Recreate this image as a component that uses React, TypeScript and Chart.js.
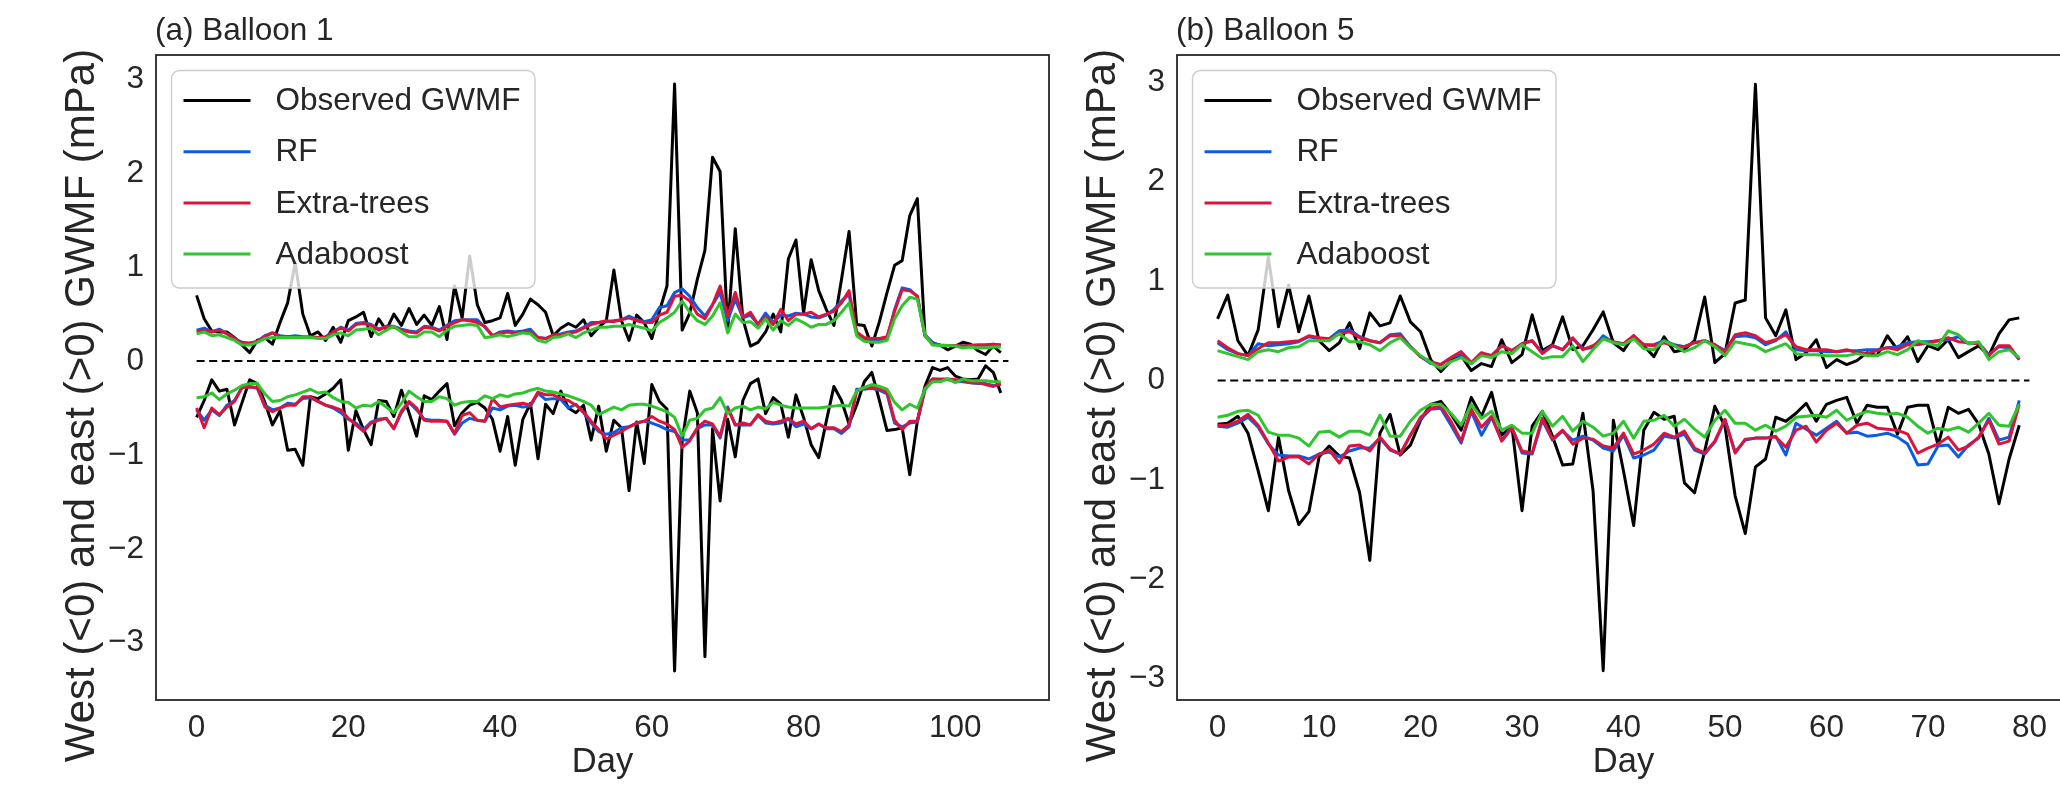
import React, { useEffect, useRef } from 'react';
import { Chart, registerables } from 'chart.js';
Chart.register(...registerables);

// ---------------- data ----------------
const aObsPos = [0.70,0.45,0.32,0.31,0.31,0.25,0.17,0.09,0.22,0.25,
 0.18,0.41,0.62,1.05,0.50,0.27,0.31,0.22,0.36,0.20,
 0.43,0.47,0.52,0.26,0.45,0.33,0.50,0.38,0.56,0.39,
 0.49,0.38,0.58,0.23,0.80,0.46,1.12,0.60,0.41,0.43,
 0.46,0.72,0.38,0.50,0.66,0.60,0.52,0.27,0.35,0.40,
 0.36,0.44,0.27,0.36,0.43,0.97,0.43,0.22,0.49,0.41,
 0.24,0.53,0.80,2.95,0.33,0.51,0.87,1.18,2.17,2.02,
 0.33,1.41,0.45,0.16,0.20,0.31,0.50,0.31,1.09,1.29,
 0.51,1.08,0.75,0.55,0.38,0.87,1.38,0.39,0.38,0.16,
 0.42,0.73,1.02,1.07,1.55,1.73,0.28,0.19,0.17,0.12,
 0.16,0.20,0.18,0.11,0.07,0.16,0.09];
const aObsNeg = [-0.60,-0.42,-0.20,-0.32,-0.30,-0.68,-0.44,-0.20,-0.24,-0.44,
 -0.68,-0.53,-0.95,-0.94,-1.11,-0.38,-0.40,-0.35,-0.29,-0.20,
 -0.95,-0.53,-0.73,-0.89,-0.42,-0.43,-0.59,-0.31,-0.55,-0.80,
 -0.37,-0.41,-0.32,-0.24,-0.69,-0.55,-0.47,-0.44,-0.50,-0.62,
 -0.96,-0.59,-1.11,-0.62,-0.45,-1.04,-0.46,-0.56,-0.32,-0.50,
 -0.55,-0.47,-0.84,-0.48,-0.96,-0.63,-0.71,-1.38,-0.65,-1.09,
 -0.25,-0.43,-0.51,-3.30,-0.85,-0.32,-0.55,-3.15,-0.72,-1.49,
 -0.62,-1.02,-0.42,-0.24,-0.19,-0.56,-0.39,-0.46,-0.81,-0.36,
 -0.60,-0.89,-1.03,-0.64,-0.27,-0.42,-0.67,-0.47,-0.22,-0.12,
 -0.42,-0.74,-0.73,-0.71,-1.21,-0.64,-0.27,-0.07,-0.10,-0.07,
 -0.16,-0.19,-0.20,-0.19,-0.05,-0.12,-0.34];
const aRfPos = [0.33,0.35,0.31,0.34,0.29,0.24,0.20,0.19,0.21,0.27,
 0.30,0.27,0.26,0.27,0.26,0.26,0.25,0.26,0.31,0.36,
 0.33,0.40,0.41,0.39,0.34,0.37,0.37,0.34,0.32,0.31,
 0.37,0.36,0.33,0.38,0.43,0.44,0.44,0.44,0.36,0.27,
 0.31,0.32,0.31,0.32,0.34,0.25,0.24,0.27,0.29,0.31,
 0.32,0.36,0.41,0.41,0.42,0.43,0.44,0.48,0.44,0.42,
 0.44,0.57,0.59,0.73,0.77,0.69,0.57,0.48,0.60,0.73,
 0.43,0.66,0.46,0.49,0.39,0.51,0.41,0.49,0.48,0.51,
 0.50,0.47,0.46,0.49,0.55,0.64,0.71,0.29,0.23,0.22,
 0.22,0.24,0.55,0.78,0.76,0.69,0.27,0.20,0.165,0.165,
 0.165,0.16,0.165,0.17,0.17,0.18,0.17];
const aEtPos = [0.31,0.33,0.31,0.33,0.29,0.24,0.19,0.19,0.21,0.26,
 0.30,0.26,0.26,0.26,0.25,0.25,0.25,0.25,0.31,0.35,
 0.32,0.39,0.40,0.38,0.33,0.37,0.36,0.33,0.31,0.30,
 0.36,0.35,0.32,0.37,0.41,0.44,0.43,0.41,0.37,0.27,
 0.30,0.31,0.30,0.31,0.31,0.25,0.24,0.28,0.28,0.30,
 0.31,0.35,0.39,0.41,0.43,0.42,0.44,0.46,0.43,0.41,
 0.41,0.49,0.52,0.69,0.70,0.64,0.50,0.45,0.60,0.80,
 0.48,0.73,0.47,0.52,0.39,0.47,0.39,0.55,0.43,0.50,
 0.50,0.52,0.47,0.50,0.53,0.62,0.75,0.31,0.25,0.24,
 0.24,0.26,0.53,0.76,0.75,0.69,0.27,0.18,0.17,0.165,
 0.165,0.16,0.165,0.17,0.17,0.18,0.17];
const aAdaPos = [0.29,0.31,0.27,0.28,0.25,0.22,0.17,0.17,0.20,0.24,
 0.25,0.25,0.25,0.25,0.25,0.25,0.24,0.24,0.28,0.30,
 0.27,0.33,0.34,0.35,0.28,0.33,0.37,0.31,0.26,0.26,
 0.31,0.31,0.26,0.33,0.37,0.38,0.39,0.38,0.25,0.26,
 0.28,0.26,0.28,0.30,0.29,0.22,0.20,0.25,0.26,0.29,
 0.25,0.30,0.33,0.36,0.36,0.37,0.37,0.39,0.37,0.35,
 0.32,0.41,0.46,0.52,0.64,0.52,0.43,0.39,0.48,0.62,
 0.30,0.50,0.41,0.42,0.35,0.45,0.33,0.43,0.38,0.45,
 0.41,0.36,0.39,0.39,0.43,0.52,0.62,0.27,0.21,0.20,
 0.20,0.22,0.45,0.59,0.68,0.66,0.28,0.17,0.165,0.165,
 0.16,0.14,0.15,0.14,0.14,0.15,0.15];
const aRfNeg = [-0.52,-0.63,-0.52,-0.58,-0.47,-0.42,-0.28,-0.27,-0.29,-0.47,
 -0.52,-0.50,-0.45,-0.46,-0.40,-0.39,-0.43,-0.47,-0.50,-0.55,
 -0.62,-0.66,-0.73,-0.65,-0.62,-0.61,-0.72,-0.55,-0.44,-0.52,
 -0.62,-0.63,-0.63,-0.64,-0.78,-0.66,-0.61,-0.63,-0.64,-0.50,
 -0.52,-0.48,-0.47,-0.49,-0.48,-0.34,-0.41,-0.40,-0.41,-0.50,
 -0.46,-0.55,-0.66,-0.75,-0.78,-0.76,-0.71,-0.70,-0.66,-0.64,
 -0.66,-0.69,-0.73,-0.75,-0.84,-0.84,-0.72,-0.68,-0.68,-0.82,
 -0.49,-0.68,-0.68,-0.68,-0.58,-0.66,-0.67,-0.66,-0.62,-0.70,
 -0.67,-0.72,-0.67,-0.72,-0.72,-0.77,-0.70,-0.30,-0.30,-0.29,
 -0.31,-0.35,-0.66,-0.70,-0.66,-0.65,-0.31,-0.19,-0.20,-0.20,
 -0.21,-0.22,-0.23,-0.24,-0.24,-0.26,-0.25];
const aEtNeg = [-0.50,-0.71,-0.50,-0.57,-0.49,-0.43,-0.28,-0.28,-0.28,-0.49,
 -0.54,-0.50,-0.47,-0.47,-0.38,-0.38,-0.43,-0.47,-0.49,-0.52,
 -0.61,-0.68,-0.75,-0.66,-0.63,-0.61,-0.72,-0.53,-0.43,-0.50,
 -0.63,-0.64,-0.64,-0.64,-0.77,-0.58,-0.55,-0.63,-0.64,-0.40,
 -0.49,-0.47,-0.46,-0.45,-0.47,-0.33,-0.36,-0.36,-0.40,-0.42,
 -0.47,-0.54,-0.64,-0.73,-0.83,-0.79,-0.75,-0.70,-0.66,-0.64,
 -0.59,-0.64,-0.67,-0.73,-0.92,-0.85,-0.71,-0.64,-0.67,-0.80,
 -0.50,-0.68,-0.66,-0.68,-0.57,-0.64,-0.66,-0.64,-0.61,-0.67,
 -0.64,-0.72,-0.67,-0.71,-0.71,-0.75,-0.68,-0.32,-0.29,-0.28,
 -0.30,-0.33,-0.63,-0.73,-0.64,-0.64,-0.29,-0.19,-0.19,-0.19,
 -0.20,-0.21,-0.23,-0.23,-0.25,-0.27,-0.24];
const aAdaNeg = [-0.39,-0.38,-0.34,-0.41,-0.35,-0.31,-0.26,-0.24,-0.24,-0.35,
 -0.43,-0.42,-0.38,-0.36,-0.33,-0.30,-0.34,-0.33,-0.39,-0.43,
 -0.44,-0.50,-0.47,-0.48,-0.43,-0.49,-0.55,-0.45,-0.32,-0.38,
 -0.43,-0.43,-0.38,-0.40,-0.47,-0.44,-0.43,-0.43,-0.37,-0.40,
 -0.36,-0.38,-0.35,-0.34,-0.31,-0.29,-0.32,-0.33,-0.35,-0.37,
 -0.40,-0.43,-0.47,-0.57,-0.53,-0.49,-0.52,-0.47,-0.46,-0.46,
 -0.48,-0.51,-0.54,-0.60,-0.80,-0.63,-0.61,-0.52,-0.50,-0.39,
 -0.56,-0.50,-0.48,-0.52,-0.49,-0.51,-0.44,-0.47,-0.49,-0.50,
 -0.50,-0.50,-0.50,-0.49,-0.48,-0.47,-0.48,-0.32,-0.28,-0.25,
 -0.27,-0.30,-0.44,-0.52,-0.46,-0.50,-0.30,-0.22,-0.22,-0.19,
 -0.23,-0.19,-0.21,-0.21,-0.21,-0.22,-0.22];

const bObsPos = [0.62,0.86,0.40,0.25,0.51,1.24,0.54,0.96,0.49,0.85,
 0.40,0.30,0.38,0.58,0.32,0.68,0.55,0.58,0.85,0.59,
 0.49,0.21,0.09,0.20,0.25,0.10,0.17,0.14,0.41,0.18,
 0.26,0.66,0.30,0.36,0.64,0.31,0.35,0.51,0.69,0.38,
 0.30,0.45,0.35,0.24,0.44,0.29,0.31,0.40,0.84,0.18,
 0.27,0.78,0.81,2.98,0.63,0.45,0.71,0.21,0.28,0.41,
 0.13,0.21,0.16,0.20,0.28,0.25,0.45,0.31,0.44,0.19,
 0.35,0.31,0.41,0.23,0.29,0.35,0.25,0.47,0.61,0.63];
const bObsNeg = [-0.44,-0.43,-0.36,-0.53,-0.91,-1.31,-0.57,-1.11,-1.45,-1.32,
 -0.77,-0.66,-0.76,-0.78,-1.13,-1.81,-0.53,-0.34,-0.75,-0.65,
 -0.40,-0.24,-0.21,-0.34,-0.50,-0.17,-0.36,-0.12,-0.55,-0.46,
 -1.31,-0.46,-0.31,-0.56,-0.85,-0.84,-0.33,-1.11,-2.92,-0.40,
 -0.91,-1.46,-0.50,-0.32,-0.39,-0.36,-1.03,-1.13,-0.71,-0.26,
 -0.46,-1.16,-1.54,-0.87,-0.79,-0.37,-0.41,-0.33,-0.23,-0.41,
 -0.24,-0.20,-0.17,-0.43,-0.25,-0.27,-0.27,-0.54,-0.27,-0.25,
 -0.25,-0.65,-0.27,-0.33,-0.29,-0.44,-0.74,-1.24,-0.79,-0.45];
const bRfPos = [0.38,0.31,0.27,0.25,0.37,0.35,0.36,0.37,0.39,0.44,
 0.42,0.42,0.50,0.51,0.44,0.40,0.38,0.46,0.47,0.34,
 0.24,0.17,0.16,0.23,0.26,0.17,0.27,0.25,0.35,0.30,
 0.37,0.40,0.28,0.35,0.31,0.42,0.32,0.33,0.45,0.38,
 0.37,0.43,0.36,0.36,0.40,0.36,0.34,0.38,0.40,0.36,
 0.30,0.44,0.45,0.43,0.36,0.40,0.49,0.31,0.30,0.30,
 0.29,0.29,0.30,0.30,0.31,0.31,0.33,0.34,0.38,0.39,
 0.39,0.40,0.41,0.44,0.37,0.38,0.26,0.34,0.33,0.21];
const bEtPos = [0.40,0.33,0.27,0.25,0.32,0.38,0.38,0.39,0.40,0.45,
 0.43,0.42,0.47,0.49,0.43,0.40,0.38,0.45,0.45,0.34,
 0.24,0.19,0.16,0.23,0.29,0.18,0.28,0.25,0.35,0.30,
 0.37,0.40,0.27,0.35,0.31,0.43,0.31,0.35,0.42,0.39,
 0.37,0.45,0.36,0.35,0.38,0.35,0.34,0.38,0.40,0.36,
 0.29,0.46,0.48,0.45,0.38,0.41,0.46,0.34,0.31,0.31,
 0.31,0.29,0.31,0.28,0.27,0.30,0.33,0.31,0.36,0.36,
 0.38,0.40,0.43,0.39,0.38,0.37,0.25,0.35,0.35,0.21];
const bAdaPos = [0.30,0.27,0.24,0.21,0.29,0.31,0.29,0.33,0.34,0.40,
 0.40,0.40,0.47,0.39,0.39,0.36,0.30,0.38,0.43,0.33,
 0.25,0.18,0.12,0.19,0.23,0.17,0.25,0.23,0.29,0.27,
 0.36,0.29,0.22,0.24,0.24,0.35,0.19,0.31,0.42,0.38,
 0.36,0.42,0.32,0.31,0.40,0.35,0.29,0.33,0.40,0.34,
 0.25,0.39,0.37,0.35,0.29,0.33,0.37,0.27,0.26,0.26,
 0.25,0.25,0.25,0.27,0.25,0.25,0.29,0.26,0.31,0.40,
 0.37,0.35,0.50,0.46,0.37,0.39,0.21,0.29,0.31,0.23];
const bRfNeg = [-0.46,-0.47,-0.43,-0.37,-0.47,-0.64,-0.75,-0.76,-0.76,-0.79,
 -0.74,-0.72,-0.77,-0.71,-0.68,-0.68,-0.58,-0.70,-0.74,-0.55,
 -0.39,-0.29,-0.28,-0.45,-0.63,-0.31,-0.55,-0.37,-0.60,-0.47,
 -0.73,-0.74,-0.40,-0.60,-0.51,-0.60,-0.56,-0.60,-0.68,-0.71,
 -0.55,-0.78,-0.75,-0.70,-0.56,-0.58,-0.54,-0.70,-0.74,-0.62,
 -0.40,-0.72,-0.60,-0.58,-0.58,-0.56,-0.75,-0.43,-0.49,-0.55,
 -0.48,-0.41,-0.53,-0.52,-0.56,-0.55,-0.53,-0.57,-0.64,-0.85,
 -0.84,-0.66,-0.65,-0.77,-0.65,-0.58,-0.38,-0.60,-0.57,-0.20];
const bEtNeg = [-0.45,-0.45,-0.41,-0.34,-0.45,-0.63,-0.81,-0.77,-0.77,-0.84,
 -0.74,-0.70,-0.83,-0.66,-0.65,-0.71,-0.57,-0.69,-0.74,-0.55,
 -0.37,-0.28,-0.26,-0.41,-0.61,-0.29,-0.47,-0.36,-0.61,-0.48,
 -0.71,-0.73,-0.38,-0.59,-0.50,-0.64,-0.58,-0.59,-0.66,-0.68,
 -0.53,-0.74,-0.70,-0.64,-0.53,-0.57,-0.51,-0.68,-0.73,-0.61,
 -0.39,-0.73,-0.59,-0.58,-0.58,-0.57,-0.67,-0.50,-0.46,-0.62,
 -0.50,-0.43,-0.53,-0.45,-0.43,-0.48,-0.49,-0.50,-0.54,-0.73,
 -0.68,-0.64,-0.57,-0.70,-0.66,-0.57,-0.40,-0.64,-0.61,-0.24];
const bAdaNeg = [-0.37,-0.35,-0.31,-0.30,-0.35,-0.52,-0.55,-0.55,-0.58,-0.66,
 -0.52,-0.51,-0.57,-0.51,-0.51,-0.55,-0.35,-0.56,-0.56,-0.41,
 -0.30,-0.24,-0.24,-0.33,-0.45,-0.24,-0.38,-0.31,-0.50,-0.45,
 -0.53,-0.53,-0.31,-0.46,-0.36,-0.51,-0.41,-0.47,-0.56,-0.53,
 -0.41,-0.58,-0.41,-0.40,-0.35,-0.46,-0.39,-0.49,-0.57,-0.40,
 -0.30,-0.43,-0.43,-0.50,-0.45,-0.51,-0.46,-0.37,-0.36,-0.35,
 -0.37,-0.30,-0.40,-0.35,-0.31,-0.33,-0.34,-0.33,-0.37,-0.46,
 -0.53,-0.48,-0.50,-0.47,-0.52,-0.43,-0.33,-0.45,-0.46,-0.24];

const seriesNames = ['Observed GWMF', 'RF', 'Extra-trees', 'Adaboost'];
const panelTitles = ['(a) Balloon 1', '(b) Balloon 5'];
const xTicksA = [0, 20, 40, 60, 80, 100];
const xTicksB = [0, 10, 20, 30, 40, 50, 60, 70, 80];
const yTicks = [-3, -2, -1, 0, 1, 2, 3];
const xLabel = 'Day';
const yLabel = 'West (<0) and east (>0) GWMF (mPa)';

// ---------------- style ----------------
const FONT = "'Liberation Sans', Arial, Helvetica, sans-serif";
const TEXT = '#262626';
const COLORS = ['#000000', '#0b5ce5', '#dc143c', '#2ec52e'];
const TICK_SIZE = 31.5;
const XLABEL_SIZE = 34.5;
const YLABEL_SIZE = 42;
const LW = 3;

function pts(arr: number[]) {
  return arr.map((v, i) => ({ x: i, y: v }));
}

function makeDatasets(obsP, obsN, rfP, rfN, etP, etN, adaP, adaN) {
  const n = obsP.length;
  const mk = (arr, ci, order) => ({
    data: pts(arr), borderColor: COLORS[ci], borderWidth: LW, pointRadius: 0,
    fill: false, tension: 0, order, borderJoinStyle: 'round', borderCapStyle: 'butt',
  });
  return [
    mk(adaP, 3, 0), mk(adaN, 3, 0),
    mk(etP, 2, 1), mk(etN, 2, 1),
    mk(rfP, 1, 2), mk(rfN, 1, 2),
    mk(obsP, 0, 3), mk(obsN, 0, 3),
    { data: [{ x: 0, y: 0 }, { x: n, y: 0 }], borderColor: '#000000', borderWidth: 2,
      borderDash: [8, 4.6], pointRadius: 0, fill: false, order: 4 },
  ];
}

function decorPlugin(title: string) {
  return {
    id: 'decor',
    afterDraw(chart) {
      const { ctx, chartArea: a } = chart;
      ctx.save();
      // frame
      ctx.strokeStyle = '#262626';
      ctx.lineWidth = 1.8;
      ctx.strokeRect(a.left, a.top, a.right - a.left, a.bottom - a.top);
      // legend
      const lx = a.left + 15.5, ly = a.top + 15.5, lw = 363.5, lh = 217.5, r = 8;
      ctx.beginPath();
      ctx.moveTo(lx + r, ly);
      ctx.arcTo(lx + lw, ly, lx + lw, ly + lh, r);
      ctx.arcTo(lx + lw, ly + lh, lx, ly + lh, r);
      ctx.arcTo(lx, ly + lh, lx, ly, r);
      ctx.arcTo(lx, ly, lx + lw, ly, r);
      ctx.closePath();
      ctx.fillStyle = 'rgba(255,255,255,0.8)';
      ctx.fill();
      ctx.strokeStyle = '#cccccc';
      ctx.lineWidth = 1.4;
      ctx.stroke();
      ctx.font = `${TICK_SIZE}px ${FONT}`;
      ctx.textAlign = 'left';
      ctx.textBaseline = 'middle';
      seriesNames.forEach((name, i) => {
        const cy = ly + 30 + i * 51.2;
        ctx.beginPath();
        ctx.moveTo(lx + 12, cy);
        ctx.lineTo(lx + 79, cy);
        ctx.strokeStyle = COLORS[i];
        ctx.lineWidth = LW;
        ctx.stroke();
        ctx.fillStyle = TEXT;
        ctx.fillText(name, lx + 104, cy + 1);
      });
      // title
      ctx.fillStyle = TEXT;
      ctx.font = `${TICK_SIZE}px ${FONT}`;
      ctx.textAlign = 'left';
      ctx.textBaseline = 'alphabetic';
      ctx.fillText(title, a.left - 1, a.top - 15);
      // axis labels
      ctx.font = `${XLABEL_SIZE}px ${FONT}`;
      ctx.textAlign = 'center';
      ctx.textBaseline = 'middle';
      ctx.fillText(xLabel, (a.left + a.right) / 2, a.bottom + 62);
      ctx.font = `${YLABEL_SIZE}px ${FONT}`;
      ctx.translate(a.left - 74, (a.top + a.bottom) / 2 + 28);
      ctx.rotate(-Math.PI / 2);
      ctx.fillText(yLabel, 0, 0);
      ctx.restore();
    },
  };
}

function fmt(v: number) {
  return v < 0 ? '\u2212' + Math.abs(v) : String(v);
}

function makeConfig(p) {
  return {
    type: 'line',
    data: { datasets: p.datasets },
    options: {
      animation: false,
      responsive: false,
      maintainAspectRatio: false,
      devicePixelRatio: 1,
      events: [],
      layout: { padding: { left: 0, right: p.padRight, top: 55, bottom: 0 } },
      plugins: { legend: { display: false }, tooltip: { enabled: false }, title: { display: false } },
      elements: { point: { radius: 0 }, line: { tension: 0 } },
      scales: {
        x: {
          type: 'linear', min: p.xmin, max: p.xmax,
          grid: { display: false, drawTicks: false }, border: { display: false },
          ticks: { color: TEXT, font: { family: FONT, size: TICK_SIZE }, padding: 9, autoSkip: false, maxRotation: 0, callback: (v) => fmt(v) },
          afterBuildTicks: (s) => { s.ticks = p.xTicks.map((v) => ({ value: v })); },
          afterFit: (s) => { s.height = 91; },
        },
        y: {
          type: 'linear', min: p.ymin, max: p.ymax,
          grid: { display: false, drawTicks: false }, border: { display: false },
          ticks: { color: TEXT, font: { family: FONT, size: TICK_SIZE }, padding: 12, autoSkip: false, callback: (v) => fmt(v) },
          afterBuildTicks: (s) => { s.ticks = yTicks.map((v) => ({ value: v })); },
          afterFit: (s) => { s.width = p.yAxisWidth; },
        },
      },
    },
    plugins: [decorPlugin(p.title)],
  };
}

function Panel({ left, width, cfg }) {
  const ref = useRef<HTMLCanvasElement>(null);
  useEffect(() => {
    const chart = new Chart(ref.current, cfg);
    return () => chart.destroy();
  }, []);
  return (
    <canvas ref={ref} width={width} height={791}
      style={{ position: 'absolute', left, top: 0, width, height: 791 }} />
  );
}

const cfgA = makeConfig({
  datasets: makeDatasets(aObsPos, aObsNeg, aRfPos, aRfNeg, aEtPos, aEtNeg, aAdaPos, aAdaNeg),
  xmin: -5.35, xmax: 112.35, ymin: -3.61, ymax: 3.26, xTicks: xTicksA,
  padRight: 11, yAxisWidth: 156, title: panelTitles[0],
});
const cfgB = makeConfig({
  datasets: makeDatasets(bObsPos, bObsNeg, bRfPos, bRfNeg, bEtPos, bEtNeg, bAdaPos, bAdaNeg),
  xmin: -4, xmax: 84, ymin: -3.215, ymax: 3.275, xTicks: xTicksB,
  padRight: 20, yAxisWidth: 117, title: panelTitles[1],
});

export default function App() {
  return (
    <div style={{ position: 'fixed', left: 0, top: 0, width: 2060, height: 791, overflow: 'hidden', background: '#ffffff' }}>
      <Panel left={0} width={1060} cfg={cfgA} />
      <Panel left={1060} width={1030} cfg={cfgB} />
    </div>
  );
}
